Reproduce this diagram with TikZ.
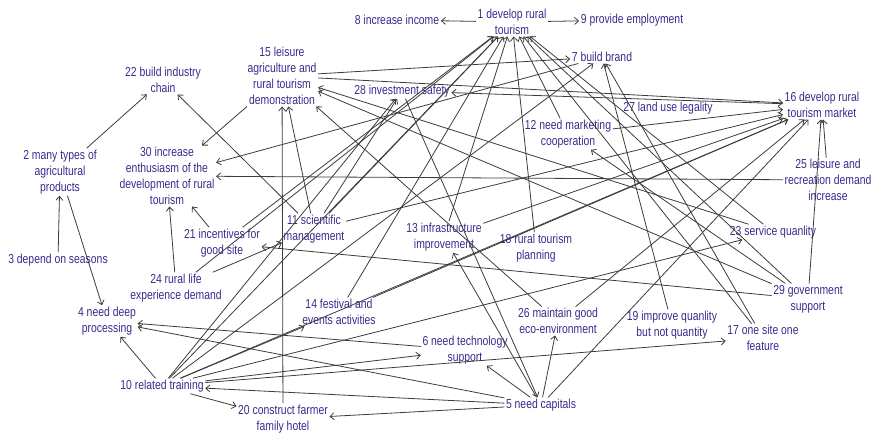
\documentclass[tikz,border=0pt]{standalone}
\usepackage{fontspec}
\setmainfont[FakeStretch=0.8]{Liberation Sans}
\usetikzlibrary{arrows.meta}
\definecolor{labelblue}{RGB}{58,42,140}
\definecolor{edgegray}{RGB}{60,60,60}

\begin{document}
\begin{tikzpicture}[x=1pt, y=-1pt,
					every node/.style={align=center, inner sep=1.5pt, text=labelblue, font=\fontsize{13}{16}\selectfont},
					link/.style={draw=edgegray, line width=0.8pt, -{Straight Barb[length=4pt,width=7pt]}}]
\useasboundingbox (0,0) rectangle (877,433);
% factors
\node (n1) at (512,22) {1 develop rural\\tourism};
\node (n8) at (397,20) {8 increase income};
\node (n9) at (632,20) {9 provide employment};
\node (n7) at (602,57) {7 build brand};
\node (n22) at (163,80) {22 build industry\\chain};
\node (n15) at (282,76) {15 leisure\\agriculture and\\rural tourism\\demonstration};
\node (n28) at (402,91) {28 investment safety};
\node (n27) at (668,108) {27 land use legality};
\node (n16) at (822,105) {16 develop rural\\tourism market};
\node (n12) at (568,134) {12 need marketing\\cooperation};
\node (n2) at (60,172) {2 many types of\\agricultural\\products};
\node (n30) at (167,176) {30 increase\\enthusiasm of the\\development of rural\\tourism};
\node (n25) at (828,180) {25 leisure and\\recreation demand\\increase};
\node (n11) at (314,229) {11 scientific\\management};
\node (n21) at (222,243) {21 incentives for\\good site};
\node (n13) at (444,237) {13 infrastructure\\improvement};
\node (n18) at (536,248) {18 rural tourism\\planning};
\node (n3) at (58,260) {3 depend on seasons};
\node (n23) at (773,232) {23 service quanlity};
\node (n24) at (176,288) {24 rural life\\experience demand};
\node (n29) at (808,299) {29 government\\support};
\node (n14) at (339,312) {14 festival and\\events activities};
\node (n4) at (107,321) {4 need deep\\processing};
\node (n26) at (558,321) {26 maintain good\\eco-environment};
\node (n19) at (672,325) {19 improve quanlity\\but not quantity};
\node (n17) at (763,338) {17 one site one\\feature};
\node (n6) at (465,350) {6 need technology\\support};
\node (n10) at (162,386) {10 related training};
\node (n5) at (541,405) {5 need capitals};
\node (n20) at (283,419) {20 construct farmer\\family hotel};

% influences
\draw[link] (n1) edge (n8) edge (n9);
\draw[link] (n3) edge (n2);
\draw[link] (n2) edge (n22) edge (n4);
\draw[link] (n24) edge (n30) edge (n11) edge (n1);
\draw[link] (n21) edge (n30) edge (n1);
\draw[link] (n15) edge (n30) edge (n7) edge (n16);
\draw[link] (n25) edge (n30) edge (n16);
\draw[link] (n7) edge (n30);
\draw[link] (n11) edge (n22) edge (n15) edge (n1) edge (n28) edge (n16);
\draw[link] (n20) edge (n15);
\draw[link] (n26) edge (n15) edge (n16);
\draw[link] (n23) edge (n15) edge (n1);
\draw[link] (n29) edge (n15) edge (n21) edge (n1) edge (n16) edge (n12);
\draw[link] (n10) edge (n4) edge (n20) edge (n1) edge (n28) edge (n7) edge (n16)
                  edge (n6) edge (n14) edge (n23) edge (n17);
\draw[link] (n5) edge (n10) edge (n20) edge (n6) edge (n26) edge (n4) edge (n13) edge (n16);
\draw[link] (n6) edge (n4);
\draw[link] (n28) edge (n5);
\draw[link] (n14) edge (n1) edge (n16);
\draw[link] (n13) edge (n1) edge (n16);
\draw[link] (n18) edge (n1);
\draw[link] (n12) edge (n1) edge (n16);
\draw[link] (n17) edge (n1) edge (n7);
\draw[link] (n19) edge (n7);
\draw[link] (n16) edge (n28);
\end{tikzpicture}
\end{document}
